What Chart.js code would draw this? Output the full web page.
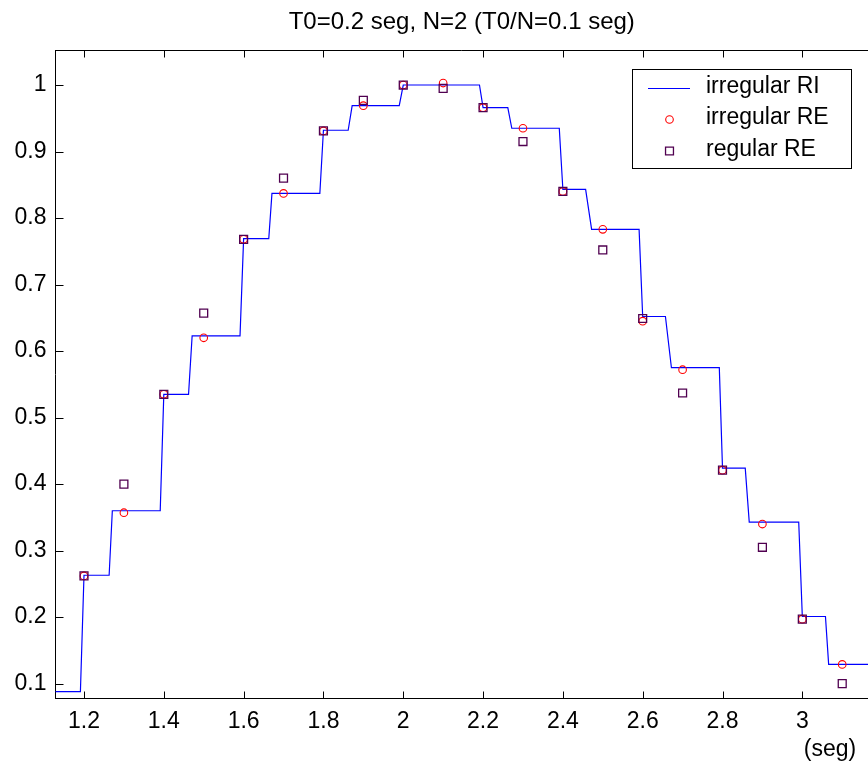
<!DOCTYPE html>
<html>
<head>
<meta charset="utf-8">
<title>T0=0.2 seg, N=2 (T0/N=0.1 seg)</title>
<script src="https://cdn.jsdelivr.net/npm/chart.js@4.4.1/dist/chart.umd.min.js"></script>
<style>
  html, body { margin: 0; padding: 0; background: #fff; overflow: hidden; }
  canvas { display: block; }
</style>
</head>
<body>
<canvas id="chart" width="868" height="762"></canvas>
<script>
// sample instants (seg)
const sampleTimes = [1.2, 1.3, 1.4, 1.5, 1.6, 1.7, 1.8, 1.9, 2.0, 2.1,
                     2.2, 2.3, 2.4, 2.5, 2.6, 2.7, 2.8, 2.9, 3.0, 3.1];
const irregularRE = [0.262, 0.357, 0.535, 0.620, 0.768, 0.837, 0.931, 0.969, 1.000, 1.003,
                     0.966, 0.935, 0.840, 0.783, 0.645, 0.572, 0.421, 0.340, 0.197, 0.129];
const regularRE   = [0.262, 0.400, 0.535, 0.657, 0.768, 0.860, 0.931, 0.977, 1.000, 0.995,
                     0.966, 0.915, 0.840, 0.752, 0.649, 0.537, 0.421, 0.305, 0.197, 0.100];

// vertices of the "irregular RI" staircase
const riTimes  = [1.12, 1.191, 1.2, 1.263, 1.271, 1.391, 1.4, 1.462, 1.471, 1.591,
                  1.6, 1.663, 1.671, 1.791, 1.8, 1.862, 1.872, 1.99, 2.0, 2.191,
                  2.2, 2.262, 2.272, 2.391, 2.4, 2.457, 2.472, 2.591, 2.6, 2.657,
                  2.672, 2.792, 2.8, 2.857, 2.867, 2.991, 3.0, 3.058, 3.066, 3.18];
const riValues = [0.088, 0.088, 0.263, 0.263, 0.360, 0.360, 0.535, 0.535, 0.623, 0.623,
                  0.769, 0.769, 0.837, 0.837, 0.932, 0.932, 0.969, 0.969, 1.000, 1.000,
                  0.966, 0.966, 0.935, 0.935, 0.843, 0.843, 0.783, 0.783, 0.652, 0.652,
                  0.575, 0.575, 0.424, 0.424, 0.343, 0.343, 0.201, 0.201, 0.129, 0.129];

const xTicks = [1.2, 1.4, 1.6, 1.8, 2.0, 2.2, 2.4, 2.6, 2.8, 3.0];
const yTicks = [0.1, 0.2, 0.3, 0.4, 0.5, 0.6, 0.7, 0.8, 0.9, 1.0];

const FONT = "'Liberation Sans', Arial, Helvetica, sans-serif";
const fmt = v => String(Number(v.toFixed(1)));

// inward ticks, top border, legend box and the "(seg)" label, matlab style
const matlabAxes = {
  id: 'matlabAxes',
  afterDraw(chart) {
    const { ctx, chartArea: a, scales: { x, y } } = chart;
    ctx.save();
    ctx.strokeStyle = '#000';
    ctx.lineWidth = 1;
    ctx.beginPath();
    ctx.moveTo(a.left, a.top);
    ctx.lineTo(a.right, a.top);
    x.ticks.forEach(t => {
      const px = Math.round(x.getPixelForValue(t.value)) + 0.5;
      ctx.moveTo(px, a.bottom);
      ctx.lineTo(px, a.bottom - 7);
      ctx.moveTo(px, a.top);
      ctx.lineTo(px, a.top + 7);
    });
    y.ticks.forEach(t => {
      const py = Math.round(y.getPixelForValue(t.value)) + 0.5;
      ctx.moveTo(a.left, py);
      ctx.lineTo(a.left + 8, py);
    });
    ctx.stroke();

    ctx.fillStyle = '#000';
    ctx.font = '23px ' + FONT;
    ctx.textAlign = 'center';
    ctx.textBaseline = 'alphabetic';
    ctx.fillText('(seg)', 830, 756);

    // legend
    const box = { left: 632.5, top: 69.5, width: 219, height: 99 };
    ctx.fillStyle = '#fff';
    ctx.fillRect(box.left, box.top, box.width, box.height);
    ctx.strokeStyle = '#000';
    ctx.strokeRect(box.left, box.top, box.width, box.height);

    const rows = [88.5, 119.5, 151];
    ctx.font = '23px ' + FONT;
    ctx.textAlign = 'left';
    ctx.textBaseline = 'middle';
    chart.data.datasets.forEach((ds, i) => {
      const cy = rows[i];
      ctx.strokeStyle = ds.borderColor;
      ctx.lineWidth = ds.borderWidth;
      ctx.beginPath();
      if (ds.showLine) {
        ctx.moveTo(648, cy);
        ctx.lineTo(690, cy);
      } else if (ds.pointStyle === 'circle') {
        ctx.arc(669.5, cy, ds.pointRadius, 0, Math.PI * 2);
      } else {
        const h = ds.pointRadius * Math.SQRT1_2;
        ctx.rect(669.5 - h, cy - h, 2 * h, 2 * h);
      }
      ctx.stroke();
      ctx.fillStyle = '#000';
      ctx.fillText(ds.label, 706, cy - 1.5);
    });
    ctx.restore();
  }
};

const toPoints = (xs, ys) => xs.map((v, i) => ({ x: v, y: ys[i] }));

new Chart(document.getElementById('chart'), {
  type: 'scatter',
  data: {
    datasets: [
      {
        label: 'irregular RI',
        data: toPoints(riTimes, riValues),
        showLine: true,
        borderColor: '#0000ff',
        borderWidth: 1.2,
        pointRadius: 0,
        tension: 0,
        order: 3
      },
      {
        label: 'irregular RE',
        data: toPoints(sampleTimes, irregularRE),
        showLine: false,
        pointStyle: 'circle',
        pointRadius: 3.8,
        borderColor: '#ff0000',
        backgroundColor: 'rgba(0,0,0,0)',
        borderWidth: 1.1,
        order: 2
      },
      {
        label: 'regular RE',
        data: toPoints(sampleTimes, regularRE),
        showLine: false,
        pointStyle: 'rect',
        pointRadius: 5.6,
        borderColor: '#500050',
        backgroundColor: 'rgba(0,0,0,0)',
        borderWidth: 1.3,
        order: 1
      }
    ]
  },
  options: {
    responsive: false,
    animation: false,
    devicePixelRatio: 1,
    layout: { padding: 0, autoPadding: false },
    plugins: {
      legend: { display: false },
      tooltip: { enabled: false },
      title: {
        display: true,
        fullSize: false,
        text: 'T0=0.2 seg, N=2 (T0/N=0.1 seg)',
        color: '#000',
        font: { family: FONT, size: 24, weight: 'normal', lineHeight: 1.2 },
        padding: { top: 7.5, bottom: 14.2 }
      }
    },
    scales: {
      x: {
        type: 'linear',
        min: 1.1286,
        max: 3.1646,
        afterBuildTicks: s => { s.ticks = xTicks.map(v => ({ value: v })); },
        afterFit: s => {
          s.height = 63.5;
          s.paddingLeft = 0;
          s.paddingRight = 0;
        },
        grid: { display: false, drawTicks: false },
        border: { display: true, color: '#000', width: 1 },
        ticks: {
          color: '#000',
          padding: 9,
          maxRotation: 0,
          autoSkip: false,
          font: { family: FONT, size: 23, lineHeight: 1.2 },
          callback: v => fmt(v)
        }
      },
      y: {
        type: 'linear',
        min: 0.0777,
        max: 1.0519,
        afterBuildTicks: s => { s.ticks = yTicks.map(v => ({ value: v })); },
        afterFit: s => {
          s.width = 55.5;
          s.paddingTop = 0;
          s.paddingBottom = 0;
        },
        grid: { display: false, drawTicks: false },
        border: { display: true, color: '#000', width: 1 },
        ticks: {
          color: '#000',
          padding: 9,
          autoSkip: false,
          font: { family: FONT, size: 23, lineHeight: 1.2 },
          callback: v => fmt(v)
        }
      }
    }
  },
  plugins: [matlabAxes]
});
</script>
</body>
</html>
